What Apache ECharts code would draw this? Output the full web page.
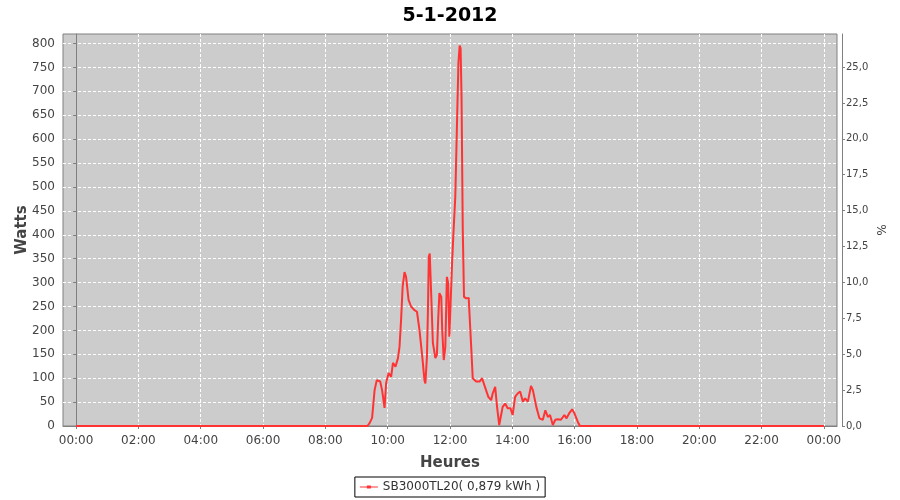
<!DOCTYPE html>
<html><head><meta charset="utf-8">
<script src="https://cdn.jsdelivr.net/npm/echarts@6/dist/echarts.min.js"></script>
<style>html,body{margin:0;padding:0;background:#fff}#c{width:900px;height:500px}</style>
</head><body><div id="c"></div>
<script>
var title = '5-1-2012';
var seriesName = 'SB3000TL20( 0,879 kWh )';
var hours = [0, 9.35, 9.42, 9.50, 9.58, 9.65, 9.70, 9.76, 9.82, 9.90, 9.95, 10.03, 10.11, 10.17, 10.25, 10.33, 10.38, 10.43, 10.48, 10.54, 10.59, 10.67, 10.75, 10.85, 10.94, 11.02, 11.11, 11.18, 11.21, 11.26, 11.29, 11.32, 11.35, 11.40, 11.45, 11.53, 11.58, 11.62, 11.66, 11.72, 11.75, 11.80, 11.85, 11.90, 11.94, 11.98, 12.02, 12.07, 12.11, 12.17, 12.22, 12.27, 12.31, 12.34, 12.37, 12.41, 12.45, 12.52, 12.60, 12.68, 12.73, 12.84, 12.95, 13.03, 13.10, 13.16, 13.23, 13.32, 13.37, 13.45, 13.51, 13.58, 13.62, 13.69, 13.77, 13.85, 13.94, 14.01, 14.09, 14.17, 14.25, 14.34, 14.41, 14.50, 14.60, 14.66, 14.77, 14.87, 14.98, 15.06, 15.14, 15.21, 15.30, 15.38, 15.45, 15.56, 15.67, 15.74, 15.83, 15.92, 15.99, 16.10, 16.17, 24];
var watts = [0, 0, 6, 17, 75, 96, 98, 93, 75, 38, 90, 111, 103, 132, 124, 142, 166, 222, 291, 322, 312, 264, 250, 243, 239, 201, 145, 96, 89, 145, 236, 354, 361, 270, 174, 142, 149, 222, 278, 270, 201, 138, 166, 312, 299, 187, 183, 347, 403, 480, 619, 759, 796, 790, 689, 410, 270, 267, 268, 166, 100, 93, 93, 100, 86, 82, 61, 54, 68, 82, 40, 2, 6, 40, 47, 37, 37, 23, 61, 68, 72, 51, 58, 51, 84, 75, 40, 16, 13, 33, 19, 23, 2, 13, 14, 13, 23, 16, 27, 35, 27, 9, 0, 0];
var xTicks = [0, 2, 4, 6, 8, 10, 12, 14, 16, 18, 20, 22, 24];
var yTicks = [0, 50, 100, 150, 200, 250, 300, 350, 400, 450, 500, 550, 600, 650, 700, 750, 800];
var pctTicks = [0, 2.5, 5, 7.5, 10, 12.5, 15, 17.5, 20, 22.5, 25];

var data = hours.map(function (h, i) { return [h, watts[i]]; });
var font = 'DejaVu Sans';
var chart = echarts.init(document.getElementById('c'), null, {renderer: 'canvas'});
function pad(n) { return (n < 10 ? '0' : '') + n; }
chart.setOption({
  animation: false,
  backgroundColor: '#fff',
  title: {text: title, left: 'center', top: 2, textStyle: {fontFamily: font, fontSize: 19, fontWeight: 'bold', color: '#000'}},
  grid: {left: 63, right: 63, top: 34, bottom: 74, show: true, backgroundColor: '#cccccc', borderColor: '#808080', borderWidth: 1},
  legend: {
    top: 477, left: 'center', padding: [4, 5], itemGap: 0,
    borderColor: '#000', borderWidth: 1, itemWidth: 18, itemHeight: 8,
    textStyle: {fontFamily: font, fontSize: 12, color: '#333'},
    data: [{name: seriesName, icon: 'path://M0,4L18,4L18,5.2L0,5.2Z M7,3L11,3L11,6.2L7,6.2Z'}]
  },
  xAxis: {
    type: 'value', min: -0.42, max: 24.42, offset: 5,
    name: 'Heures', nameLocation: 'middle', nameGap: 25,
    nameTextStyle: {fontFamily: font, fontSize: 15, fontWeight: 'bold', color: '#444'},
    axisLine: {show: true, lineStyle: {color: '#808080'}},
    axisTick: {show: true, length: 3, customValues: xTicks, lineStyle: {color: '#808080'}},
    axisLabel: {customValues: xTicks, margin: 4, fontFamily: font, fontSize: 12, color: '#444',
      formatter: function (v) { return pad(Math.round(v) % 24) + ':00'; }},
    splitLine: {show: true, lineStyle: {color: '#ffffff', type: [3, 2], width: 1}}
  },
  yAxis: [{
    type: 'value', min: 0, max: 820, offset: 4, position: 'left',
    name: 'Watts', nameLocation: 'middle', nameGap: 29, nameRotate: 90, nameMoveOverlap: false,
    nameTextStyle: {fontFamily: font, fontSize: 15, fontWeight: 'bold', color: '#444'},
    axisLine: {show: true, lineStyle: {color: '#808080'}},
    axisTick: {show: true, length: 3, customValues: yTicks, lineStyle: {color: '#808080'}},
    axisLabel: {customValues: yTicks, margin: 4, fontFamily: font, fontSize: 12, color: '#444'},
    splitLine: {show: true, lineStyle: {color: '#ffffff', type: [3, 2], width: 1}}
  }, {
    type: 'value', min: 0, max: 27.3, offset: 5, position: 'right',
    name: '%', nameLocation: 'middle', nameGap: 32, nameRotate: -90, nameMoveOverlap: false,
    nameTextStyle: {fontFamily: font, fontSize: 12, color: '#444'},
    axisLine: {show: true, lineStyle: {color: '#808080'}},
    axisTick: {show: true, length: 3, customValues: pctTicks, lineStyle: {color: '#808080'}},
    axisLabel: {customValues: pctTicks, margin: 4, fontFamily: font, fontSize: 10, color: '#444',
      formatter: function (v) { return v.toFixed(1).replace('.', ','); }},
    splitLine: {show: false}
  }],
  series: [{
    name: seriesName, type: 'line', data: data, showSymbol: false, symbol: 'none',
    lineStyle: {color: '#ff3333', width: 2}, itemStyle: {color: '#ff3333'},
    clip: true
  }]
});
</script></body></html>
